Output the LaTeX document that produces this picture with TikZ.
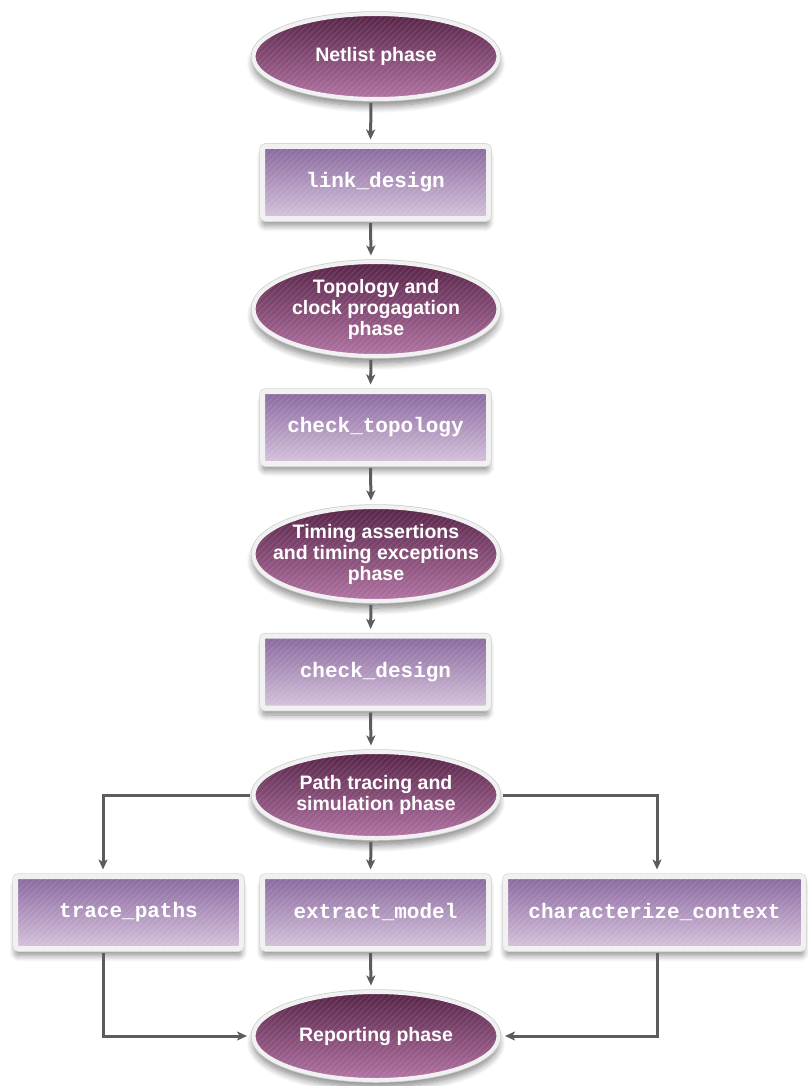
\documentclass[tikz,border=0pt]{standalone}
\usepackage{fontspec}
\setmainfont{Liberation Sans}
\setmonofont{Liberation Mono}
\usetikzlibrary{shapes.geometric,shadows.blur,arrows.meta}
\definecolor{ellTop}{HTML}{572447}
\definecolor{ellMid}{HTML}{67305B}
\definecolor{ellBot}{HTML}{B274A4}
\definecolor{boxTop}{HTML}{8A689E}
\definecolor{boxMid}{HTML}{9A7BAC}
\definecolor{boxBot}{HTML}{D6C4DD}
\definecolor{frameGray}{HTML}{F2F1F2}
\definecolor{arrowGray}{HTML}{5C5C5C}
\tikzset{
  stripes/.style={path picture={
    \foreach \k in {-110,-104,...,310}
      \draw[white, draw opacity=#1, line width=0.6pt]
        ([xshift=\k pt]path picture bounding box.south west) -- ++(115pt,115pt);}},
  phase/.style={ellipse, minimum width=245pt, minimum height=#1, inner sep=0pt,
    blur shadow={shadow xshift=0pt, shadow yshift=-7pt, shadow blur radius=7pt, shadow blur steps=10, shadow opacity=50},
    preaction={draw=black!20, line width=5.5pt},
    draw=frameGray, line width=4pt,
    top color=ellTop, middle color=ellMid, bottom color=ellBot,
    stripes=0.16},
  phtext/.style={text=white, align=center, inner sep=0pt,
    font=\bfseries\fontsize{19.5pt}{21pt}\selectfont},
  stepbox/.style={rectangle, rounded corners=3pt, minimum width=#1, minimum height=72pt, inner sep=0pt,
    blur shadow={shadow xshift=0pt, shadow yshift=-7pt, shadow blur radius=6pt, shadow blur steps=10, shadow opacity=45},
    preaction={draw=black!16, line width=6.5pt},
    draw=frameGray, line width=5pt,
    top color=boxTop, middle color=boxMid, bottom color=boxBot,
    stripes=0.17,
    text=white, font=\ttfamily\bfseries\fontsize{21pt}{21pt}\selectfont},
  arr/.style={draw=arrowGray, line width=3pt, -{Stealth[length=10pt,width=9pt,inset=2.5pt]},
    shorten <=2pt, shorten >=4.5pt},
}
\begin{document}
\begin{tikzpicture}[x=1pt,y=1pt]
\useasboundingbox (0,-1086) rectangle (807,0);
% phases and steps
\node[phase=85pt] (n1) at (376,-56.5) {};
\node[phtext] (n1t) at (n1) {Netlist phase};
\node[stepbox=226pt] (b1) at (375.5,-182.5) {link\_design};
\node[phase=94pt] (n2) at (376,-309) {};
\node[phtext] (n2t) at (n2) {Topology and\\clock progagation\\phase};
\node[stepbox=226pt] (b2) at (375.5,-427.5) {check\_topology};
\node[phase=94pt] (n3) at (376,-554) {};
\node[phtext] (n3t) at (n3) {Timing assertions\\and timing exceptions\\phase};
\node[stepbox=226pt] (b3) at (375.5,-672) {check\_design};
\node[phase=86pt] (n4) at (376,-795) {};
\node[phtext] (n4t) at (n4) {Path tracing and\\simulation phase};
\node[stepbox=226pt] (tp) at (128.5,-912.5) {trace\_paths};
\node[stepbox=226pt] (em) at (375.5,-912.5) {extract\_model};
\node[stepbox=298pt] (cc) at (654.5,-912.5) {characterize\_context};
\node[phase=88pt] (n5) at (376,-1036) {};
\node[phtext] (n5t) at (n5) {Reporting phase};
% connectors
\draw[arr] ([xshift=-5pt]n1.south) -- ([xshift=-5pt]b1.north);
\draw[arr] ([xshift=-5pt]b1.south) -- ([xshift=-5pt]n2.north);
\draw[arr] ([xshift=-5pt]n2.south) -- ([xshift=-5pt]b2.north);
\draw[arr] ([xshift=-5pt]b2.south) -- ([xshift=-5pt]n3.north);
\draw[arr] ([xshift=-5pt]n3.south) -- ([xshift=-5pt]b3.north);
\draw[arr] ([xshift=-5pt]b3.south) -- ([xshift=-5pt]n4.north);
\draw[arr] (n4.west) -| ([xshift=-25.5pt]tp.north);
\draw[arr] ([xshift=-5pt]n4.south) -- ([xshift=-5pt]em.north);
\draw[arr] (n4.east) -| ([xshift=2.5pt]cc.north);
\draw[arr] ([xshift=-25.5pt]tp.south) |- (n5.west);
\draw[arr] ([xshift=-5pt]em.south) -- ([xshift=-5pt]n5.north);
\draw[arr] ([xshift=2.5pt]cc.south) |- (n5.east);
\end{tikzpicture}
\end{document}
